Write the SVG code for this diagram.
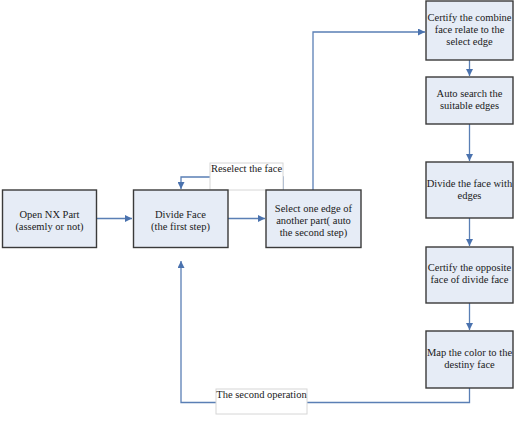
<svg xmlns="http://www.w3.org/2000/svg" width="524" height="438" viewBox="0 0 524 438">
<style>
.box{fill:#E6ECF6;stroke:#3a3a3a;stroke-width:1.4}
.t{font-family:"Liberation Serif","Times New Roman","DejaVu Serif",serif;font-size:10.5px;fill:#1a1a1a;text-anchor:middle}
.c{fill:none;stroke:#5A7FB5;stroke-width:1.3}
.lbl{fill:#fff;stroke:#d6d6d6;stroke-width:1}
</style>
<defs>
<marker id="ah" viewBox="0 0 10 10" refX="10" refY="5" markerWidth="7" markerHeight="7" markerUnits="userSpaceOnUse" orient="auto">
<path d="M0,0 L10,5 L0,10 z" fill="#4A72AE"/>
</marker>
</defs>
<g id="connectors">
<path class="c" d="M97,218.5 H132" marker-end="url(#ah)"/>
<path class="c" d="M228,218.5 H265" marker-end="url(#ah)"/>
<path class="c" d="M313,190 V32 H425" marker-end="url(#ah)"/>
<path class="c" d="M283,190 V177 H181 V189" marker-end="url(#ah)"/>
<path class="c" d="M469.5,60 V76" marker-end="url(#ah)"/>
<path class="c" d="M469.5,124 V161" marker-end="url(#ah)"/>
<path class="c" d="M469.5,218 V246" marker-end="url(#ah)"/>
<path class="c" d="M469.5,303 V330" marker-end="url(#ah)"/>
<path class="c" d="M469.5,388 V402.5 H181 V261" marker-end="url(#ah)"/>
</g>
<g id="label-reselect">
<rect class="lbl" x="210" y="163" width="73" height="27"/>
<text class="t" x="246.5" y="172">Reselect the face</text>
</g>
<g id="label-second">
<rect class="lbl" x="216" y="389" width="91" height="25"/>
<text class="t" x="261.5" y="398">The second operation</text>
</g>
<g id="open-nx">
<rect class="box" x="2.5" y="190" width="94" height="57.5"/>
<text class="t" x="49.5" y="217.5">Open NX Part</text>
<text class="t" x="49.5" y="229.5">(assemly or not)</text>
</g>
<g id="divide-face">
<rect class="box" x="133.5" y="190" width="94.5" height="57.5"/>
<text class="t" x="180.5" y="217.5">Divide Face</text>
<text class="t" x="180.5" y="229.5">(the first step)</text>
</g>
<g id="select-edge">
<rect class="box" x="266" y="190" width="95" height="57.5"/>
<text class="t" x="313.5" y="211.5">Select one edge of</text>
<text class="t" x="313.5" y="223.5">another part( auto</text>
<text class="t" x="313.5" y="235.5">the second step)</text>
</g>
<g id="certify-combine">
<rect class="box" x="426" y="1" width="87" height="59"/>
<text class="t" x="469.5" y="21">Certify the combine</text>
<text class="t" x="469.5" y="33">face relate to the</text>
<text class="t" x="469.5" y="45">select edge</text>
</g>
<g id="auto-search">
<rect class="box" x="426" y="77" width="87" height="47"/>
<text class="t" x="469.5" y="97">Auto search the</text>
<text class="t" x="469.5" y="109">suitable edges</text>
</g>
<g id="divide-with-edges">
<rect class="box" x="426" y="162" width="87" height="56"/>
<text class="t" x="469.5" y="187">Divide the face with</text>
<text class="t" x="469.5" y="199">edges</text>
</g>
<g id="certify-opposite">
<rect class="box" x="426" y="247" width="87" height="56"/>
<text class="t" x="469.5" y="271">Certify the opposite</text>
<text class="t" x="469.5" y="283">face of divide face</text>
</g>
<g id="map-color">
<rect class="box" x="426" y="331" width="87" height="57"/>
<text class="t" x="469.5" y="355.5">Map the color to the</text>
<text class="t" x="469.5" y="367.5">destiny face</text>
</g>
</svg>
